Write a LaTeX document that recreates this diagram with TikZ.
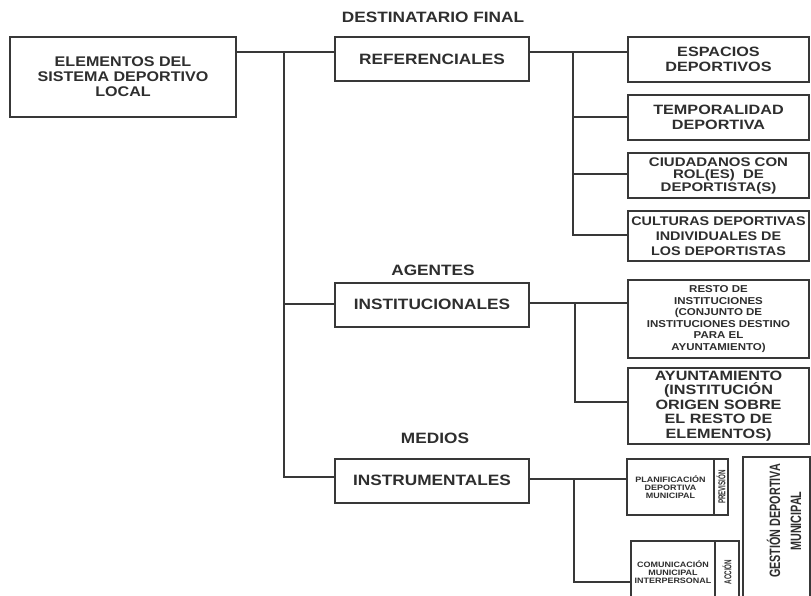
\documentclass[tikz,border=0pt]{standalone}
\usepackage{fontspec}
\setmainfont{Liberation Sans}
\newfontfamily\wf[FakeStretch=1.15]{Liberation Sans}
\newfontfamily\wg[FakeStretch=1.2]{Liberation Sans}
\newfontfamily\cf[FakeStretch=0.72]{Liberation Sans}
\newfontfamily\cg[FakeStretch=0.62]{Liberation Sans}
\definecolor{lc}{gray}{0.22}
\definecolor{tc}{gray}{0.18}
\begin{document}
\begin{tikzpicture}[x=1pt,y=-1pt,
  box/.style={draw=lc, line width=2pt, inner sep=0pt, align=center, text=tc, fill=white},
  mainbox/.style={box, minimum width=194, minimum height=44, font=\wf\bfseries\fontsize{15}{16}\selectfont},
  rbox/.style={box, minimum width=181, font=\wg\bfseries\fontsize{13.5}{14.5}\selectfont},
  lbl/.style={inner sep=0pt, text=tc, font=\wf\bfseries\fontsize{15}{16}\selectfont},
  ln/.style={draw=lc, line width=2pt, line cap=rect}]
\useasboundingbox (0,0) rectangle (811,596);
\fill[white] (0,0) rectangle (811,596);
\clip (0,0) rectangle (811,596);

% left / middle column
\node[box, minimum width=226, minimum height=80, font=\wf\bfseries\fontsize{14}{15}\selectfont] (elem) at (123,77) {ELEMENTOS DEL\\SISTEMA DEPORTIVO\\LOCAL};
\node[lbl] (dest) at (433,17) {DESTINATARIO FINAL};
\node[mainbox] (ref) at (432,59) {REFERENCIALES};
\node[lbl] (agen) at (433,270) {AGENTES};
\node[mainbox] (inst) at (432,304.5) {INSTITUCIONALES};
\node[lbl] (med) at (435,438) {MEDIOS};
\node[mainbox] (instr) at (432,480.5) {INSTRUMENTALES};

% right column
\node[rbox, minimum height=45] (esp) at (718.5,59.5) {ESPACIOS\\DEPORTIVOS};
\node[rbox, minimum height=45] (tem) at (718.5,117.5) {TEMPORALIDAD\\DEPORTIVA};
\node[rbox, minimum height=45, font=\wg\bfseries\fontsize{12.5}{12.5}\selectfont] (ciu) at (718.5,175.5) {CIUDADANOS CON\\ROL(ES)\ \ DE\\DEPORTISTA(S)};
\node[rbox, minimum height=50, font=\wf\bfseries\fontsize{12.5}{15}\selectfont] (cul) at (718.5,236) {CULTURAS DEPORTIVAS\\INDIVIDUALES DE\\LOS DEPORTISTAS};
\node[rbox, minimum height=78, font=\wf\bfseries\fontsize{10}{11.5}\selectfont] (res) at (718.5,319) {RESTO DE\\INSTITUCIONES\\(CONJUNTO DE\\INSTITUCIONES DESTINO\\PARA EL\\AYUNTAMIENTO)};
\node[rbox, minimum height=76, font=\wg\bfseries\fontsize{13.5}{14.5}\selectfont] (ayu) at (718.5,406) {AYUNTAMIENTO\\(INSTITUCIÓN\\ORIGEN SOBRE\\EL RESTO DE\\ELEMENTOS)};

\node[box, minimum width=87, minimum height=56, font=\wf\bfseries\fontsize{7.8}{7.8}\selectfont] (pla) at (670.5,487) {PLANIFICACIÓN\\DEPORTIVA\\MUNICIPAL};
\node[box, minimum width=14, minimum height=56, font=\cg\bfseries\fontsize{10}{10}\selectfont] (pre) at (721,487) {\rotatebox{90}{PREVISIÓN}};
\node[box, minimum width=84, minimum height=62, font=\wf\bfseries\fontsize{7.8}{7.8}\selectfont] (com) at (673,572) {COMUNICACIÓN\\MUNICIPAL\\INTERPERSONAL};
\node[box, minimum width=24, minimum height=62, font=\cg\bfseries\fontsize{10}{10}\selectfont] (acc) at (727,572) {\rotatebox{90}{ACCIÓN}};
\node[box, minimum width=67, minimum height=176] (ges) at (776.5,545) {};
\node[rotate=90, inner sep=0pt, align=center, text=tc, font=\cf\bfseries\fontsize{15}{21}\selectfont] (gtx) at (784,521) {GESTIÓN DEPORTIVA\\MUNICIPAL};

% trunk
\coordinate (t1) at (284,52);
\coordinate (t2) at (284,304);
\coordinate (t3) at (284,477);
\draw[ln] (elem.east |- t1) -- (ref.west |- t1);
\draw[ln] (t1) |- (instr.west |- t3);
\draw[ln] (t2) -- (inst.west |- t2);

% bracket referenciales
\coordinate (b0) at (573,52);
\coordinate (b1) at (573,117.5);
\coordinate (b2) at (573,174);
\coordinate (b3) at (573,235);
\draw[ln] (ref.east |- b0) -- (esp.west |- b0);
\draw[ln] (b0) |- (cul.west |- b3);
\draw[ln] (b1) -- (tem.west |- b1);
\draw[ln] (b2) -- (ciu.west |- b2);

% bracket institucionales
\coordinate (c0) at (575,303);
\coordinate (c1) at (575,402);
\draw[ln] (inst.east |- c0) -- (res.west |- c0);
\draw[ln] (c0) |- (ayu.west |- c1);

% bracket instrumentales
\coordinate (d0) at (574,479);
\coordinate (d1) at (574,582);
\draw[ln] (instr.east |- d0) -- (pla.west |- d0);
\draw[ln] (d0) |- (com.west |- d1);
\end{tikzpicture}
\end{document}
